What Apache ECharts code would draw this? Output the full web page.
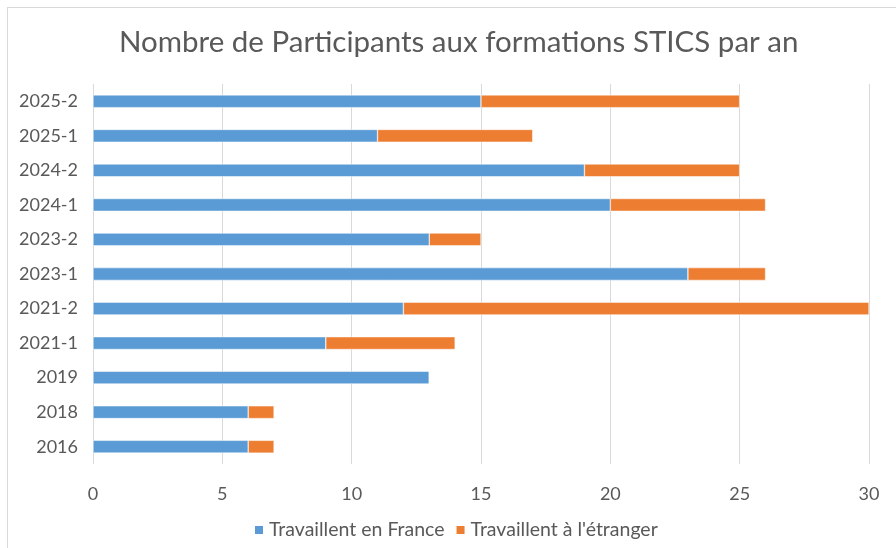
<!DOCTYPE html>
<html>
<head>
<meta charset="utf-8">
<script src="https://cdn.jsdelivr.net/npm/echarts@6/dist/echarts.min.js"></script>
<style>
  html, body { margin: 0; padding: 0; background: #fff; }
  #frame { position: absolute; left: 7px; top: 7px; width: 889px; height: 541px;
           border-left: 1px solid #d9d9d9; border-top: 1px solid #d9d9d9; }
  #chart { width: 896px; height: 548px; position: absolute; left: 0; top: 0; }
</style>
</head>
<body>
<div id="frame"></div>
<div id="chart"></div>
<script>
// sessions, from bottom to top
const sessions = ['2016', '2018', '2019', '2021-1', '2021-2', '2023-1', '2023-2', '2024-1', '2024-2', '2025-1', '2025-2'];
const enFrance = [6, 6, 13, 9, 12, 23, 13, 20, 19, 11, 15];
const etranger = [1, 1, 0, 5, 18, 3, 2, 6, 6, 6, 10];
const xTicks = [0, 5, 10, 15, 20, 25, 30];

const chart = echarts.init(document.getElementById('chart'));
const font = 'Lato, "Open Sans", sans-serif';

const option = {
    animation: false,
    title: {
        text: 'Nombre de Participants aux formations STICS par an',
        left: 114,
        top: 22,
        textStyle: { fontFamily: font, fontSize: 29.5, fontWeight: 'normal', color: '#595959' }
    },
    legend: {
        bottom: 3,
        left: 248,
        itemWidth: 10,
        itemHeight: 10,
        itemGap: 10,
        icon: 'rect',
        textStyle: { fontFamily: font, fontSize: 19.5, color: '#595959' },
        data: ['Travaillent en France', "Travaillent à l'étranger"]
    },
    grid: { left: 93, right: 27, top: 84, height: 380, containLabel: false },
    xAxis: {
        type: 'value',
        min: xTicks[0],
        max: xTicks[xTicks.length - 1],
        interval: 5,
        axisLine: { show: false },
        axisTick: { show: false },
        axisLabel: { fontFamily: font, fontSize: 18, color: '#595959', margin: 21 },
        splitLine: { show: true, lineStyle: { color: '#d9d9d9', width: 1 } }
    },
    yAxis: {
        type: 'category',
        data: sessions,
        axisLine: { show: false },
        axisTick: { show: false },
        axisLabel: { fontFamily: font, fontSize: 18, color: '#595959', margin: 15 }
    },
    series: [
        {
            name: 'Travaillent en France',
            type: 'bar',
            stack: 'total',
            barWidth: '37%',
            data: enFrance,
            itemStyle: { color: '#5B9BD5', borderColor: '#ffffff', borderWidth: 0.5 }
        },
        {
            name: "Travaillent à l'étranger",
            type: 'bar',
            stack: 'total',
            barWidth: '37%',
            data: etranger,
            itemStyle: { color: '#ED7D31', borderColor: '#ffffff', borderWidth: 0.5 }
        }
    ]
};

chart.setOption(option);
</script>
</body>
</html>
